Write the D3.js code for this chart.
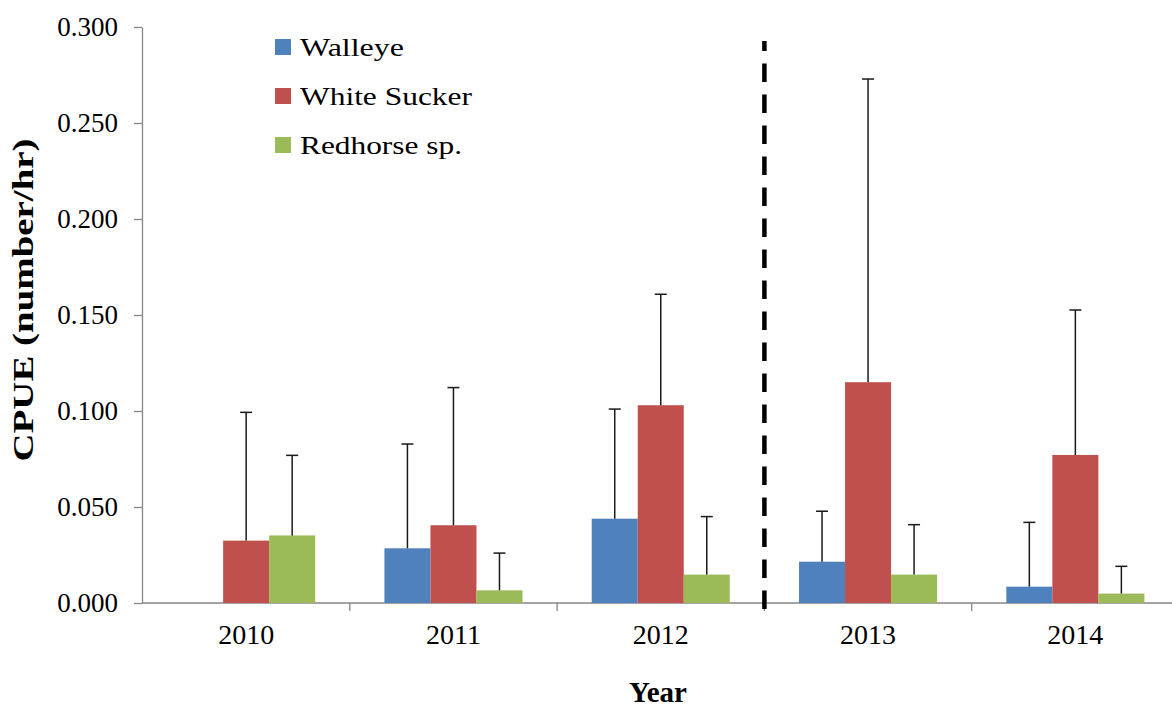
<!DOCTYPE html>
<html>
<head>
<meta charset="utf-8">
<script src="https://cdn.jsdelivr.net/npm/d3@7"></script>
<style>
    body { margin: 0; background: #fff; }
    svg text { font-family: "Liberation Serif", "Times New Roman", "DejaVu Serif", serif !important; fill: #000; }
    .axis path, .axis line { stroke: #868686; stroke-width: 1.3; }
</style>
</head>
<body>
<div id="chart"></div>
<script>
//Datos
const years = ['2010', '2011', '2012', '2013', '2014'];
const species = ['Walleye', 'White Sucker', 'Redhorse sp.'];
const colors = ['#4F81BD', '#C0504D', '#9BBB59'];

const walleye = [0, 0.0285, 0.0439, 0.0215, 0.0085];
const walleyeErr = [0, 0.0543, 0.0571, 0.0263, 0.0335];
const whiteSucker = [0.0325, 0.0405, 0.1030, 0.1150, 0.0771];
const whiteSuckerErr = [0.0668, 0.0717, 0.0578, 0.1579, 0.0755];
const redhorse = [0.0352, 0.0066, 0.0148, 0.0148, 0.0049];
const redhorseErr = [0.0417, 0.0194, 0.0302, 0.0260, 0.0142];

const yTicks = [0, 0.05, 0.10, 0.15, 0.20, 0.25, 0.30];
const splitYear = '2013';

const FONT = '"Liberation Serif", "Times New Roman", "DejaVu Serif", serif';

let values = [walleye, whiteSucker, redhorse],
    errors = [walleyeErr, whiteSuckerErr, redhorseErr];

let rows = [];
years.forEach(function(yr, i) {
    species.forEach(function(sp, j) {
        rows.push({year: yr, species: sp, value: values[j][i], err: errors[j][i], color: colors[j]});
    });
});

//Dimensiones
let W = 1172, H = 709;
let margin = {top: 27, left: 142.5, bottom: 106, right: -7};

let svg = d3.select('#chart')
    .append('svg')
        .attr('width', W)
        .attr('height', H)
        .attr('font-family', FONT);

let x0 = d3.scaleBand()
    .domain(years)
    .range([margin.left, W - margin.right])
    .paddingInner(0.334)
    .paddingOuter(0.167);

let x1 = d3.scaleBand()
    .domain(species)
    .range([0, x0.bandwidth()]);

let y = d3.scaleLinear()
    .domain([0, 0.3])
    .range([H - margin.bottom, margin.top]);

//Eje Y
svg.append('g')
    .attr('class', 'axis y-axis')
    .attr('transform', 'translate(142,0)')
    .call(d3.axisLeft(y).tickValues(yTicks).tickFormat(d3.format('.3f')).tickSize(8).tickSizeOuter(0).tickPadding(16))
    .call(function(g) {
        g.attr('font-family', FONT).attr('font-size', 27);
        g.selectAll('text').style('font-family', FONT).style('font-size', '27px').attr('fill', '#000');
    });

//Eje X (marcas entre grupos)
let step = x0.step(),
    gap = step * x0.paddingInner();
let boundaries = years.map(function(d) { return x0(d) - gap / 2; });
boundaries.push(x0(years[years.length - 1]) + x0.bandwidth() + gap / 2);

let xg = svg.append('g').attr('class', 'axis x-axis');
xg.append('line')
    .attr('x1', 142).attr('x2', W)
    .attr('y1', y(0)).attr('y2', y(0));
xg.selectAll('.tick-b')
    .data(boundaries.slice(1))
    .enter()
    .append('line')
    .attr('class', 'tick-b')
    .attr('x1', function(d) { return d; })
    .attr('x2', function(d) { return d; })
    .attr('y1', y(0))
    .attr('y2', y(0) + 8);
xg.selectAll('.year-label')
    .data(years)
    .enter()
    .append('text')
    .attr('class', 'year-label')
    .attr('x', function(d) { return x0(d) + x0.bandwidth() / 2; })
    .attr('y', 644)
    .attr('text-anchor', 'middle')
    .style('font-family', FONT)
    .style('font-size', '28px')
    .text(function(d) { return d; });

//Barras
svg.append('g')
    .selectAll('rect')
    .data(rows.filter(function(d) { return d.value > 0; }))
    .enter()
    .append('rect')
    .attr('x', function(d) { return x0(d.year) + x1(d.species); })
    .attr('y', function(d) { return y(d.value); })
    .attr('width', x1.bandwidth())
    .attr('height', function(d) { return y(0) - y(d.value); })
    .attr('fill', function(d) { return d.color; });

//Barras de error (solo superior)
let errG = svg.append('g')
    .selectAll('g')
    .data(rows.filter(function(d) { return d.err > 0; }))
    .enter()
    .append('g')
    .attr('stroke', '#1a1a1a')
    .attr('stroke-width', 1.5);

errG.append('line')
    .attr('x1', function(d) { return x0(d.year) + x1(d.species) + x1.bandwidth() / 2; })
    .attr('x2', function(d) { return x0(d.year) + x1(d.species) + x1.bandwidth() / 2; })
    .attr('y1', function(d) { return y(d.value); })
    .attr('y2', function(d) { return y(d.value + d.err); });

errG.append('line')
    .attr('x1', function(d) { return x0(d.year) + x1(d.species) + x1.bandwidth() / 2 - 6; })
    .attr('x2', function(d) { return x0(d.year) + x1(d.species) + x1.bandwidth() / 2 + 6; })
    .attr('y1', function(d) { return y(d.value + d.err); })
    .attr('y2', function(d) { return y(d.value + d.err); });

//Línea discontinua
let splitX = x0(splitYear) - gap / 2;
svg.append('line')
    .attr('x1', splitX).attr('x2', splitX)
    .attr('y1', 41).attr('y2', 610)
    .attr('stroke', '#000')
    .attr('stroke-width', 4.5)
    .attr('stroke-dasharray', '18.5,12.5')
    .attr('stroke-dashoffset', 8.5);

//Leyenda
let legendLen = [104, 172, 162];
let legend = svg.append('g')
    .selectAll('g')
    .data(species)
    .enter()
    .append('g')
    .attr('transform', function(d, i) { return 'translate(275,' + (39 + i * 49) + ')'; });

legend.append('rect')
    .attr('width', 16)
    .attr('height', 16)
    .attr('fill', function(d, i) { return colors[i]; });

legend.append('text')
    .attr('x', 25)
    .attr('y', 17)
    .style('font-family', FONT)
    .style('font-size', '25px')
    .attr('textLength', function(d, i) { return legendLen[i]; })
    .attr('lengthAdjust', 'spacingAndGlyphs')
    .text(function(d) { return d; });

//Títulos
svg.append('text')
    .attr('transform', 'translate(33,300) rotate(-90)')
    .attr('text-anchor', 'middle')
    .style('font-family', FONT)
    .style('font-size', '29px')
    .style('font-weight', 'bold')
    .attr('textLength', 323)
    .attr('lengthAdjust', 'spacingAndGlyphs')
    .text('CPUE (number/hr)');

svg.append('text')
    .attr('x', 658)
    .attr('y', 702)
    .attr('text-anchor', 'middle')
    .style('font-family', FONT)
    .style('font-size', '29px')
    .style('font-weight', 'bold')
    .text('Year');
</script>
</body>
</html>
